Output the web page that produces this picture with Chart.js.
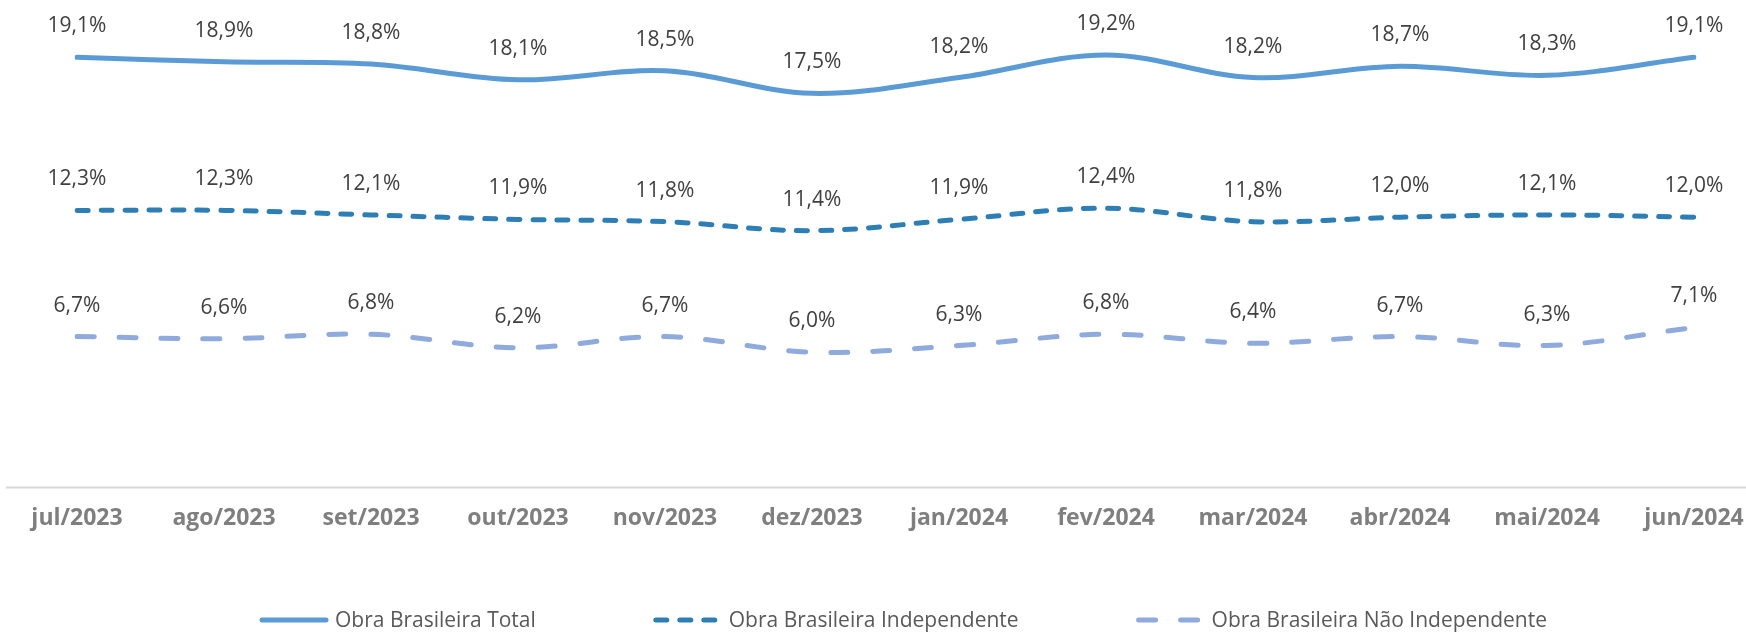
<!DOCTYPE html>
<html>
<head>
<meta charset="utf-8">
<script src="https://cdn.jsdelivr.net/npm/chart.js@4.4.1/dist/chart.umd.min.js"></script>
<style>
    html, body { margin: 0; padding: 0; background: #ffffff; }
    #wrap { width: 1746px; height: 632px; position: relative; }
</style>
</head>
<body>
<div id="wrap"><canvas id="chart"></canvas></div>
<script>
const months = ['jul/2023', 'ago/2023', 'set/2023', 'out/2023', 'nov/2023', 'dez/2023',
                'jan/2024', 'fev/2024', 'mar/2024', 'abr/2024', 'mai/2024', 'jun/2024'];

const obraTotal = [19.1, 18.9, 18.8, 18.1, 18.5, 17.5, 18.2, 19.2, 18.2, 18.7, 18.3, 19.1];
const obraIndependente = [12.3, 12.3, 12.1, 11.9, 11.8, 11.4, 11.9, 12.4, 11.8, 12.0, 12.1, 12.0];
const obraNaoIndependente = [6.7, 6.6, 6.8, 6.2, 6.7, 6.0, 6.3, 6.8, 6.4, 6.7, 6.3, 7.1];

const seriesNames = ['Obra Brasileira Total', 'Obra Brasileira Independente', 'Obra Brasileira Não Independente'];

const fmt = v => v.toFixed(1).replace('.', ',') + '%';

// value labels above each point
const valueLabels = {
    id: 'valueLabels',
    afterDatasetsDraw(chart) {
        const ctx = chart.ctx;
        ctx.save();
        ctx.font = '21px "Open Sans"';
        ctx.fillStyle = '#404040';
        ctx.textAlign = 'center';
        ctx.textBaseline = 'middle';
        chart.data.datasets.forEach((ds, i) => {
            chart.getDatasetMeta(i).data.forEach((pt, j) => {
                ctx.fillText(fmt(ds.data[j]), pt.x, pt.y - 31);
            });
        });
        ctx.restore();
    }
};

// axis line running the full width
const axisLine = {
    id: 'axisLine',
    beforeDatasetsDraw(chart) {
        const ctx = chart.ctx;
        const y = chart.chartArea.bottom;
        ctx.save();
        ctx.strokeStyle = '#d9d9d9';
        ctx.lineWidth = 2;
        ctx.beginPath();
        ctx.moveTo(6, y);
        ctx.lineTo(chart.width, y);
        ctx.stroke();
        ctx.restore();
    }
};

// legend with wide spacing between items
const wideLegend = {
    id: 'wideLegend',
    afterDraw(chart) {
        const ctx = chart.ctx;
        const sample = 70, gapText = 6, gapItem = 117;
        const y = 620;
        ctx.save();
        ctx.font = '21px "Open Sans"';
        ctx.textBaseline = 'middle';
        ctx.textAlign = 'left';
        const items = chart.data.datasets.map(ds => ({ ds, w: ctx.measureText(ds.label).width }));
        const total = items.reduce((s, it) => s + sample + gapText + it.w, 0) + gapItem * (items.length - 1);
        let x = 903 - total / 2;
        items.forEach(it => {
            ctx.strokeStyle = it.ds.borderColor;
            ctx.lineWidth = it.ds.borderWidth;
            ctx.lineCap = 'round';
            ctx.setLineDash(it.ds.borderDash || []);
            ctx.beginPath();
            ctx.moveTo(x + 3, y);
            ctx.lineTo(x + sample - 3, y);
            ctx.stroke();
            ctx.setLineDash([]);
            ctx.fillStyle = '#595959';
            ctx.fillText(it.ds.label, x + sample + gapText, y + 1);
            x += sample + gapText + it.w + gapItem;
        });
        ctx.restore();
    }
};

new Chart(document.getElementById('chart'), {
    type: 'line',
    data: {
        labels: months,
        datasets: [
            {
                label: seriesNames[0],
                data: obraTotal,
                borderColor: '#5b9bd5',
                borderWidth: 5,
                borderCapStyle: 'round',
                tension: 0.35,
                pointRadius: 0
            },
            {
                label: seriesNames[1],
                data: obraIndependente,
                borderColor: '#2e7eb6',
                borderWidth: 5,
                borderCapStyle: 'round',
                borderDash: [11, 13],
                tension: 0.35,
                pointRadius: 0
            },
            {
                label: seriesNames[2],
                data: obraNaoIndependente,
                borderColor: '#8faadc',
                borderWidth: 5,
                borderCapStyle: 'round',
                borderDash: [17, 25],
                tension: 0.35,
                pointRadius: 0
            }
        ]
    },
    options: {
        responsive: true,
        maintainAspectRatio: false,
        animation: false,
        layout: {
            padding: { left: 77, right: 52, top: 37, bottom: 83 }
        },
        plugins: {
            legend: { display: false },
            tooltip: { enabled: false }
        },
        scales: {
            x: {
                offset: false,
                grid: { display: false, drawTicks: false },
                border: { display: false },
                afterFit(scale) {
                    // let the layout padding decide the plot edges
                    scale.paddingLeft = 0;
                    scale.paddingRight = 0;
                },
                ticks: {
                    padding: 17,
                    maxRotation: 0,
                    autoSkip: false,
                    color: '#7f7f7f',
                    font: { family: 'Open Sans', size: 23, weight: 'bold' }
                }
            },
            y: {
                display: false,
                min: 0,
                max: 20
            }
        }
    },
    plugins: [axisLine, valueLabels, wideLegend]
});
</script>
</body>
</html>
